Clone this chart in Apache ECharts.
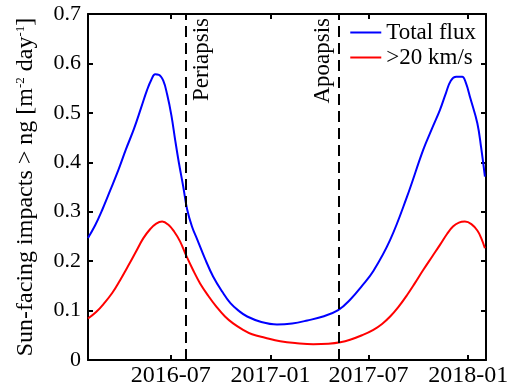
<!DOCTYPE html>
<html>
<head>
<meta charset="utf-8">
<script src="https://cdn.jsdelivr.net/npm/echarts@6/dist/echarts.min.js"></script>
<style>
  html, body { margin: 0; padding: 0; background: #fff; }
  #chart { width: 519px; height: 391px; }
</style>
</head>
<body>
<div id="chart"></div>
<script>
// x range of the plot
const xMin = '2016-01-30';
const xMax = '2018-02-03';

// tick positions (first of month) and their labels
const tickDates = ['2016-07-01', '2017-01-01', '2017-07-01', '2018-01-01'];
const tickLabels = ['2016-07', '2017-01', '2017-07', '2018-01'];

// total flux (blue)
const totalDates = ['2016-01-30', '2016-02-12', '2016-02-25', '2016-03-11', '2016-03-26', '2016-04-09',
  '2016-04-24', '2016-05-07', '2016-05-18', '2016-05-26', '2016-06-02', '2016-06-09', '2016-06-17',
  '2016-06-24', '2016-07-02', '2016-07-09', '2016-07-16', '2016-07-24', '2016-07-31', '2016-08-09',
  '2016-08-19', '2016-09-02', '2016-09-17', '2016-10-04', '2016-10-19', '2016-11-04', '2016-11-19',
  '2016-12-15', '2017-01-13', '2017-02-10', '2017-03-10', '2017-04-08', '2017-05-06', '2017-05-28',
  '2017-06-19', '2017-07-10', '2017-08-10', '2017-09-10', '2017-10-10', '2017-10-27', '2017-11-10',
  '2017-11-21', '2017-11-30', '2017-12-10', '2017-12-21', '2017-12-28', '2018-01-05', '2018-01-18',
  '2018-01-25', '2018-02-01'];
const totalFlux = [0.247, 0.272, 0.303, 0.343, 0.384, 0.426,
  0.468, 0.510, 0.546, 0.567, 0.578, 0.577, 0.565,
  0.538, 0.495, 0.445, 0.398, 0.350, 0.305, 0.270,
  0.243, 0.205, 0.169, 0.138, 0.115, 0.099, 0.088,
  0.077, 0.072, 0.074, 0.080, 0.088, 0.101, 0.122,
  0.150, 0.180, 0.243, 0.330, 0.425, 0.470, 0.506,
  0.540, 0.565, 0.573, 0.573, 0.560, 0.530, 0.479,
  0.430, 0.371];

// > 20 km/s (red)
const fastDates = ['2016-01-30', '2016-02-14', '2016-02-29', '2016-03-15', '2016-03-29', '2016-04-13',
  '2016-04-28', '2016-05-11', '2016-05-24', '2016-06-04', '2016-06-15', '2016-06-26', '2016-07-07',
  '2016-07-18', '2016-07-29', '2016-08-11', '2016-08-24', '2016-09-08', '2016-09-23', '2016-10-09',
  '2016-10-24', '2016-11-10', '2016-11-28', '2016-12-22', '2017-01-19', '2017-02-19', '2017-03-21',
  '2017-04-18', '2017-05-10', '2017-05-28', '2017-06-19', '2017-07-10', '2017-07-26', '2017-08-10',
  '2017-08-25', '2017-09-10', '2017-09-25', '2017-10-10', '2017-10-27', '2017-11-10', '2017-11-23',
  '2017-12-04', '2017-12-15', '2017-12-26', '2018-01-07', '2018-01-18', '2018-01-25', '2018-02-01'];
const fastFlux = [0.084, 0.097, 0.115, 0.136, 0.161, 0.190,
  0.220, 0.246, 0.265, 0.276, 0.280, 0.274, 0.260,
  0.240, 0.212, 0.182, 0.155, 0.130, 0.108, 0.088,
  0.074, 0.062, 0.052, 0.045, 0.038, 0.034, 0.032,
  0.033, 0.036, 0.041, 0.050, 0.061, 0.073, 0.088,
  0.107, 0.131, 0.156, 0.182, 0.210, 0.233, 0.255,
  0.270, 0.278, 0.280, 0.275, 0.262, 0.247, 0.226];

// orbit events
const eventDates = ['2016-07-29', '2017-05-07'];
const eventNames = ['Periapsis', 'Apoapsis'];

const font = 'Liberation Serif';
const toTime = d => echarts.time.parse(d).getTime();
const tickTimes = tickDates.map(toTime);

function pairs(dates, vals) {
  return dates.map((d, i) => [toTime(d), vals[i]]);
}

const chart = echarts.init(document.getElementById('chart'));

const axisLine = { show: true, onZero: false, lineStyle: { color: '#000', width: 2 } };
const tickStyle = { inside: true, length: 5, lineStyle: { color: '#000', width: 2 } };

const option = {
  animation: false,
  grid: { left: 88, right: 33, top: 14, bottom: 31 },
  legend: {
    orient: 'vertical',
    right: 38,
    top: 16,
    itemWidth: 31,
    itemHeight: 2,
    itemGap: 2,
    icon: 'rect',
    textStyle: { fontFamily: font, fontSize: 23, color: '#000' },
    data: ['Total flux', '>20 km/s']
  },
  xAxis: [{
    type: 'value',
    min: toTime(xMin),
    max: toTime(xMax),
    axisLine: axisLine,
    axisTick: Object.assign({ customValues: tickTimes }, tickStyle),
    axisLabel: {
      customValues: tickTimes,
      formatter: v => tickLabels[tickTimes.indexOf(v)] || '',
      fontFamily: font, fontSize: 24, color: '#000', margin: 4
    },
    splitLine: { show: false }
  }, {
    type: 'value',
    position: 'top',
    min: toTime(xMin),
    max: toTime(xMax),
    axisLine: axisLine,
    axisTick: Object.assign({ customValues: tickTimes }, tickStyle),
    axisLabel: { show: false },
    splitLine: { show: false }
  }],
  yAxis: [{
    type: 'value',
    min: 0,
    max: 0.7,
    interval: 0.1,
    axisLine: axisLine,
    axisTick: tickStyle,
    axisLabel: { fontFamily: font, fontSize: 22, color: '#000', margin: 7 },
    splitLine: { show: false },
    name: 'Sun-facing impacts > ng [m{sup|-2} day{sup|-1}]',
    nameLocation: 'middle',
    nameGap: 50,
    nameTextStyle: {
      fontFamily: font, fontSize: 24, color: '#000',
      rich: { sup: { fontFamily: font, fontSize: 13, color: '#000', verticalAlign: 'top', padding: [0, 0, 9, 0] } }
    }
  }, {
    type: 'value',
    position: 'right',
    min: 0,
    max: 0.7,
    interval: 0.1,
    axisLine: axisLine,
    axisTick: tickStyle,
    axisLabel: { show: false },
    splitLine: { show: false }
  }],
  series: [{
    name: 'Total flux',
    type: 'line',
    data: pairs(totalDates, totalFlux),
    showSymbol: false,
    smooth: 0.4,
    lineStyle: { color: '#0000ff', width: 2 },
    itemStyle: { color: '#0000ff' },
    z: 3,
    markLine: {
      silent: true,
      symbol: 'none',
      lineStyle: { color: '#000', width: 2, type: [11, 6] },
      label: { fontFamily: font, fontSize: 23, color: '#000', distance: 4 },
      data: eventDates.map((d, i) => ({
        xAxis: toTime(d),
        label: {
          formatter: eventNames[i],
          position: i === 0 ? 'insideEndBottom' : 'insideEndTop'
        }
      }))
    }
  }, {
    name: '>20 km/s',
    type: 'line',
    data: pairs(fastDates, fastFlux),
    showSymbol: false,
    smooth: 0.4,
    lineStyle: { color: '#ff0000', width: 2 },
    itemStyle: { color: '#ff0000' },
    z: 3
  }]
};

chart.setOption(option);
</script>
</body>
</html>
